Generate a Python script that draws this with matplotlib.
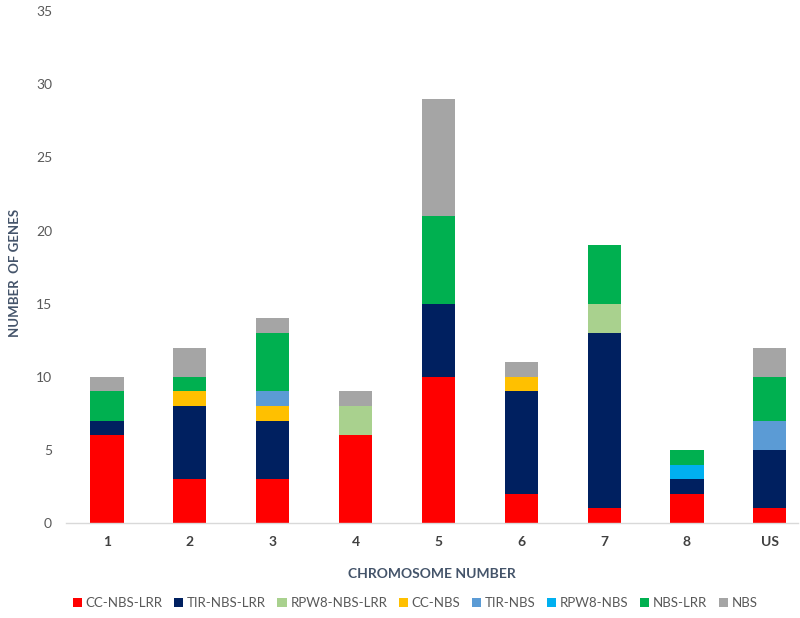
import matplotlib
matplotlib.use("Agg")
import matplotlib.pyplot as plt
import numpy as np

plt.rcParams['font.family'] = ['Lato', 'DejaVu Sans']

chromosomes = ["1", "2", "3", "4", "5", "6", "7", "8", "US"]
series_names = ["CC-NBS-LRR", "TIR-NBS-LRR", "RPW8-NBS-LRR", "CC-NBS",
                "TIR-NBS", "RPW8-NBS", "NBS-LRR", "NBS"]
cc_nbs_lrr   = [6, 3, 3, 6, 10, 2, 1, 2, 1]
tir_nbs_lrr  = [1, 5, 4, 0, 5, 7, 12, 1, 4]
rpw8_nbs_lrr = [0, 0, 0, 2, 0, 0, 2, 0, 0]
cc_nbs       = [0, 1, 1, 0, 0, 1, 0, 0, 0]
tir_nbs      = [0, 0, 1, 0, 0, 0, 0, 0, 2]
rpw8_nbs     = [0, 0, 0, 0, 0, 0, 0, 1, 0]
nbs_lrr      = [2, 1, 4, 0, 6, 0, 4, 1, 3]
nbs          = [1, 2, 1, 1, 8, 1, 0, 0, 2]

series = [cc_nbs_lrr, tir_nbs_lrr, rpw8_nbs_lrr, cc_nbs, tir_nbs, rpw8_nbs, nbs_lrr, nbs]
colors = ["#FF0000", "#002060", "#A9D18E", "#FFC000", "#5B9BD5", "#00B0F0", "#00B050", "#A5A5A5"]

fig = plt.figure(figsize=(8, 6.18), dpi=100)
ax = fig.add_axes([0.0825, 0.1537, 0.915, 0.8283])

x = np.arange(len(chromosomes))
bottom = np.zeros(len(chromosomes))
for name, vals, col in zip(series_names, series, colors):
    v = np.array(vals, dtype=float)
    ax.bar(x, v, width=0.4, bottom=bottom, color=col, label=name, linewidth=0)
    bottom += v

ax.set_ylim(0, 35)
ax.set_xlim(-0.495, 8.34)
ax.set_yticks(range(0, 36, 5))
ax.set_xticks(x)
ax.set_xticklabels(chromosomes, fontweight='bold', color='#404040', fontsize=10)
ax.tick_params(axis='y', length=0, labelsize=10, labelcolor='#595959', pad=10)
ax.tick_params(axis='x', length=0, pad=9)
for s in ['top', 'right', 'left']:
    ax.spines[s].set_visible(False)
ax.spines['bottom'].set_color('#D9D9D9')
ax.spines['bottom'].set_linewidth(1)

ax.set_ylabel("NUMBER  OF GENES", fontweight='bold', color='#44546A', fontsize=9.5)
ax.set_xlabel("CHROMOSOME NUMBER", fontweight='bold', color='#44546A', fontsize=10, labelpad=15)
ax.yaxis.set_label_coords(-0.062, 0.488)

fig.legend(loc='center', bbox_to_anchor=(0.519, 0.024), ncol=8, frameon=False,
           fontsize=9.5, handlelength=0.7, handleheight=0.7, handletextpad=0.3,
           columnspacing=0.85, labelcolor='#595959')

fig.savefig("out.png", dpi=100)
